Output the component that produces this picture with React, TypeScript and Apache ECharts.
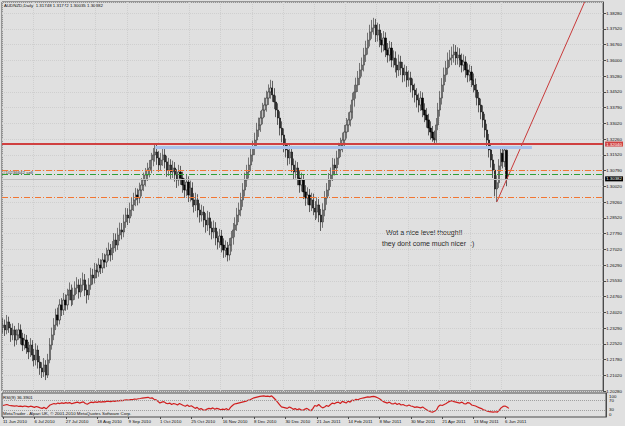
import React, { useEffect, useRef } from "react";
import * as echarts from "echarts";

const TITLE_TEXT = "AUDNZD,Daily  1.31748 1.31772 1.30035 1.30382";
const RSI_TITLE = "RSI(9) 36.3901";
const COPYRIGHT = "MetaTrader - Alpari UK, \u00a9 2001-2010 MetaQuotes Software Corp.";
const ORDER_LABEL = "#10236642 sell";
const NOTE_LINE_1 = "Wot a nice level though!!";
const NOTE_LINE_2 = "they dont come much nicer  :)";

const DATE_LABELS = [
  "11 Jun 2010", "6 Jul 2010", "27 Jul 2010", "18 Aug 2010", "9 Sep 2010", "1 Oct 2010",
  "25 Oct 2010", "16 Nov 2010", "8 Dec 2010", "30 Dec 2010", "21 Jan 2011", "14 Feb 2011",
  "8 Mar 2011", "30 Mar 2011", "21 Apr 2011", "13 May 2011", "6 Jun 2011",
];
const DATE_LABEL_EVERY = 16; // bars between date labels
const SLOT_COUNT = 308; // bar slots across the chart (incl. empty shift on the right)

const PRICE_TICKS = [
  "1.20280", "1.21020", "1.21780", "1.22520", "1.23290", "1.24020", "1.24760", "1.25530",
  "1.26290", "1.27020", "1.27790", "1.28520", "1.29260", "1.30020", "1.30790", "1.31520",
  "1.32260", "1.33020", "1.33790", "1.34520", "1.35280", "1.36000", "1.36760", "1.37520", "1.38280",
];
const PRICE_MIN = 1.2028;
const PRICE_MAX = 1.38804;
const PRICE_STEP = 0.0075;

// [open, close, low, high]
const BARS = [
  [1.2330, 1.2342, 1.2302, 1.2375], [1.2342, 1.2319, 1.2290, 1.2368], [1.2319, 1.2357, 1.2298, 1.2390], [1.2357, 1.2328, 1.2305, 1.2382],
  [1.2328, 1.2295, 1.2262, 1.2348], [1.2295, 1.2319, 1.2270, 1.2350], [1.2319, 1.2271, 1.2240, 1.2338], [1.2271, 1.2295, 1.2248, 1.2322],
  [1.2295, 1.2319, 1.2272, 1.2352], [1.2319, 1.2280, 1.2250, 1.2345], [1.2280, 1.2247, 1.2218, 1.2305], [1.2247, 1.2271, 1.2225, 1.2300],
  [1.2271, 1.2233, 1.2205, 1.2295], [1.2233, 1.2214, 1.2180, 1.2262], [1.2214, 1.2247, 1.2190, 1.2280], [1.2247, 1.2199, 1.2170, 1.2270],
  [1.2199, 1.2176, 1.2145, 1.2228], [1.2176, 1.2223, 1.2150, 1.2255], [1.2223, 1.2166, 1.2135, 1.2245], [1.2166, 1.2138, 1.2105, 1.2195],
  [1.2138, 1.2119, 1.2090, 1.2165], [1.2119, 1.2152, 1.2095, 1.2185], [1.2152, 1.2104, 1.2080, 1.2175], [1.2104, 1.2176, 1.2090, 1.2205],
  [1.2176, 1.2247, 1.2160, 1.2280], [1.2247, 1.2295, 1.2225, 1.2330], [1.2295, 1.2342, 1.2270, 1.2375], [1.2342, 1.2390, 1.2318, 1.2420],
  [1.2390, 1.2366, 1.2335, 1.2425], [1.2366, 1.2438, 1.2345, 1.2465], [1.2438, 1.2414, 1.2385, 1.2470], [1.2414, 1.2461, 1.2390, 1.2495],
  [1.2461, 1.2438, 1.2410, 1.2488], [1.2438, 1.2485, 1.2415, 1.2515], [1.2485, 1.2509, 1.2460, 1.2545], [1.2509, 1.2461, 1.2432, 1.2535],
  [1.2461, 1.2485, 1.2438, 1.2520], [1.2485, 1.2518, 1.2462, 1.2550], [1.2518, 1.2533, 1.2490, 1.2570], [1.2533, 1.2499, 1.2468, 1.2560],
  [1.2499, 1.2533, 1.2475, 1.2565], [1.2533, 1.2557, 1.2505, 1.2592], [1.2557, 1.2509, 1.2480, 1.2585], [1.2509, 1.2485, 1.2445, 1.2535],
  [1.2485, 1.2533, 1.2462, 1.2565], [1.2533, 1.2580, 1.2510, 1.2615], [1.2580, 1.2566, 1.2535, 1.2610], [1.2566, 1.2604, 1.2540, 1.2638],
  [1.2604, 1.2595, 1.2565, 1.2635], [1.2595, 1.2628, 1.2572, 1.2660], [1.2628, 1.2614, 1.2585, 1.2655], [1.2614, 1.2652, 1.2590, 1.2685],
  [1.2652, 1.2642, 1.2612, 1.2682], [1.2642, 1.2676, 1.2618, 1.2710], [1.2676, 1.2699, 1.2648, 1.2735], [1.2699, 1.2676, 1.2645, 1.2728],
  [1.2676, 1.2709, 1.2652, 1.2742], [1.2709, 1.2747, 1.2685, 1.2780], [1.2747, 1.2723, 1.2692, 1.2778], [1.2723, 1.2771, 1.2700, 1.2805],
  [1.2771, 1.2795, 1.2742, 1.2830], [1.2795, 1.2785, 1.2750, 1.2828], [1.2785, 1.2833, 1.2760, 1.2868], [1.2833, 1.2866, 1.2805, 1.2900],
  [1.2866, 1.2852, 1.2818, 1.2898], [1.2852, 1.2890, 1.2828, 1.2925], [1.2890, 1.2914, 1.2860, 1.2948], [1.2914, 1.2938, 1.2885, 1.2972],
  [1.2938, 1.2961, 1.2908, 1.2995], [1.2961, 1.2947, 1.2912, 1.2992], [1.2947, 1.2985, 1.2922, 1.3020], [1.2985, 1.3009, 1.2955, 1.3042],
  [1.3009, 1.3033, 1.2980, 1.3068], [1.3033, 1.3057, 1.3002, 1.3090], [1.3057, 1.3080, 1.3028, 1.3115], [1.3080, 1.3090, 1.3045, 1.3128],
  [1.3090, 1.3128, 1.3065, 1.3162], [1.3128, 1.3152, 1.3098, 1.3185], [1.3152, 1.3166, 1.3120, 1.3205], [1.3166, 1.3138, 1.3105, 1.3200],
  [1.3138, 1.3104, 1.3072, 1.3170], [1.3104, 1.3128, 1.3078, 1.3162], [1.3128, 1.3152, 1.3100, 1.3192], [1.3152, 1.3119, 1.3088, 1.3180],
  [1.3119, 1.3080, 1.3048, 1.3148], [1.3080, 1.3104, 1.3052, 1.3138], [1.3104, 1.3071, 1.3038, 1.3132], [1.3071, 1.3090, 1.3042, 1.3125],
  [1.3090, 1.3057, 1.3025, 1.3118], [1.3057, 1.3033, 1.2995, 1.3085], [1.3033, 1.3071, 1.3005, 1.3105], [1.3071, 1.3042, 1.3010, 1.3100],
  [1.3042, 1.3009, 1.2972, 1.3072], [1.3009, 1.2985, 1.2948, 1.3040], [1.2985, 1.3023, 1.2955, 1.3060], [1.3023, 1.2961, 1.2928, 1.3050],
  [1.2961, 1.2995, 1.2930, 1.3030], [1.2995, 1.2938, 1.2905, 1.3022], [1.2938, 1.2914, 1.2878, 1.2970], [1.2914, 1.2938, 1.2885, 1.2972],
  [1.2938, 1.2890, 1.2855, 1.2965], [1.2890, 1.2866, 1.2830, 1.2922], [1.2866, 1.2880, 1.2835, 1.2915], [1.2880, 1.2842, 1.2808, 1.2908],
  [1.2842, 1.2819, 1.2782, 1.2875], [1.2819, 1.2852, 1.2790, 1.2886], [1.2852, 1.2804, 1.2770, 1.2880], [1.2804, 1.2785, 1.2750, 1.2835],
  [1.2785, 1.2804, 1.2755, 1.2840], [1.2804, 1.2757, 1.2722, 1.2832], [1.2757, 1.2738, 1.2702, 1.2788], [1.2738, 1.2766, 1.2710, 1.2800],
  [1.2766, 1.2723, 1.2688, 1.2795], [1.2723, 1.2699, 1.2662, 1.2755], [1.2699, 1.2709, 1.2665, 1.2745], [1.2709, 1.2676, 1.2645, 1.2738],
  [1.2676, 1.2723, 1.2650, 1.2756], [1.2723, 1.2757, 1.2692, 1.2790], [1.2757, 1.2795, 1.2725, 1.2828], [1.2795, 1.2819, 1.2760, 1.2855],
  [1.2819, 1.2866, 1.2790, 1.2900], [1.2866, 1.2890, 1.2832, 1.2925], [1.2890, 1.2938, 1.2860, 1.2972], [1.2938, 1.2985, 1.2905, 1.3018],
  [1.2985, 1.3033, 1.2955, 1.3068], [1.3033, 1.3071, 1.3000, 1.3105], [1.3071, 1.3104, 1.3040, 1.3140], [1.3104, 1.3152, 1.3075, 1.3186],
  [1.3152, 1.3185, 1.3120, 1.3220], [1.3185, 1.3223, 1.3152, 1.3258], [1.3223, 1.3271, 1.3192, 1.3305], [1.3271, 1.3295, 1.3238, 1.3330],
  [1.3295, 1.3328, 1.3262, 1.3362], [1.3328, 1.3366, 1.3298, 1.3400], [1.3366, 1.3390, 1.3332, 1.3425], [1.3390, 1.3423, 1.3358, 1.3458],
  [1.3423, 1.3452, 1.3390, 1.3488], [1.3452, 1.3471, 1.3420, 1.3510], [1.3471, 1.3438, 1.3405, 1.3505], [1.3438, 1.3404, 1.3370, 1.3470],
  [1.3404, 1.3366, 1.3332, 1.3435], [1.3366, 1.3328, 1.3295, 1.3398], [1.3328, 1.3280, 1.3245, 1.3360], [1.3280, 1.3247, 1.3212, 1.3312],
  [1.3247, 1.3199, 1.3165, 1.3278], [1.3199, 1.3176, 1.3140, 1.3230], [1.3176, 1.3138, 1.3102, 1.3208], [1.3138, 1.3166, 1.3108, 1.3202],
  [1.3166, 1.3104, 1.3070, 1.3195], [1.3104, 1.3071, 1.3035, 1.3135], [1.3071, 1.3090, 1.3040, 1.3125], [1.3090, 1.3042, 1.3008, 1.3118],
  [1.3042, 1.3009, 1.2972, 1.3075], [1.3009, 1.3033, 1.2978, 1.3068], [1.3033, 1.2976, 1.2942, 1.3060], [1.2976, 1.2947, 1.2910, 1.3008],
  [1.2947, 1.2961, 1.2915, 1.2998], [1.2961, 1.2914, 1.2880, 1.2990], [1.2914, 1.2938, 1.2885, 1.2972], [1.2938, 1.2899, 1.2865, 1.2968],
  [1.2899, 1.2880, 1.2842, 1.2932], [1.2880, 1.2914, 1.2850, 1.2950], [1.2914, 1.2866, 1.2832, 1.2942], [1.2866, 1.2833, 1.2790, 1.2895],
  [1.2833, 1.2890, 1.2805, 1.2922], [1.2890, 1.2947, 1.2860, 1.2980], [1.2947, 1.2985, 1.2915, 1.3018], [1.2985, 1.3033, 1.2955, 1.3066],
  [1.3033, 1.3057, 1.3000, 1.3092], [1.3057, 1.3104, 1.3028, 1.3138], [1.3104, 1.3090, 1.3055, 1.3135], [1.3090, 1.3138, 1.3062, 1.3172],
  [1.3138, 1.3176, 1.3105, 1.3210], [1.3176, 1.3199, 1.3142, 1.3234], [1.3199, 1.3223, 1.3165, 1.3258], [1.3223, 1.3261, 1.3190, 1.3295],
  [1.3261, 1.3295, 1.3230, 1.3328], [1.3295, 1.3319, 1.3262, 1.3355], [1.3319, 1.3357, 1.3288, 1.3392], [1.3357, 1.3414, 1.3325, 1.3448],
  [1.3414, 1.3452, 1.3382, 1.3486], [1.3452, 1.3485, 1.3420, 1.3520], [1.3485, 1.3518, 1.3452, 1.3552], [1.3518, 1.3557, 1.3485, 1.3590],
  [1.3557, 1.3580, 1.3525, 1.3616], [1.3580, 1.3628, 1.3550, 1.3662], [1.3628, 1.3661, 1.3595, 1.3696], [1.3661, 1.3699, 1.3630, 1.3734],
  [1.3699, 1.3738, 1.3668, 1.3772], [1.3738, 1.3757, 1.3705, 1.3795], [1.3757, 1.3771, 1.3725, 1.3805], [1.3771, 1.3723, 1.3690, 1.3800],
  [1.3723, 1.3747, 1.3692, 1.3782], [1.3747, 1.3699, 1.3665, 1.3775], [1.3699, 1.3676, 1.3640, 1.3732], [1.3676, 1.3709, 1.3645, 1.3742],
  [1.3709, 1.3652, 1.3618, 1.3736], [1.3652, 1.3628, 1.3592, 1.3685], [1.3628, 1.3661, 1.3598, 1.3695], [1.3661, 1.3604, 1.3570, 1.3690],
  [1.3604, 1.3614, 1.3568, 1.3650], [1.3614, 1.3580, 1.3545, 1.3645], [1.3580, 1.3557, 1.3520, 1.3612], [1.3557, 1.3595, 1.3528, 1.3630],
  [1.3595, 1.3566, 1.3532, 1.3624], [1.3566, 1.3533, 1.3498, 1.3595], [1.3533, 1.3547, 1.3502, 1.3582], [1.3547, 1.3509, 1.3475, 1.3575],
  [1.3509, 1.3519, 1.3478, 1.3554], [1.3519, 1.3485, 1.3450, 1.3548], [1.3485, 1.3461, 1.3425, 1.3516], [1.3461, 1.3438, 1.3402, 1.3492],
  [1.3438, 1.3414, 1.3378, 1.3470], [1.3414, 1.3390, 1.3355, 1.3445], [1.3390, 1.3423, 1.3362, 1.3456], [1.3423, 1.3366, 1.3332, 1.3450],
  [1.3366, 1.3342, 1.3308, 1.3398], [1.3342, 1.3319, 1.3282, 1.3375], [1.3319, 1.3280, 1.3245, 1.3348], [1.3280, 1.3261, 1.3225, 1.3312],
  [1.3261, 1.3233, 1.3215, 1.3290], [1.3233, 1.3223, 1.3205, 1.3268], [1.3223, 1.3295, 1.3210, 1.3328], [1.3295, 1.3366, 1.3270, 1.3400],
  [1.3366, 1.3423, 1.3335, 1.3456], [1.3423, 1.3485, 1.3392, 1.3518], [1.3485, 1.3533, 1.3452, 1.3568], [1.3533, 1.3566, 1.3500, 1.3600],
  [1.3566, 1.3604, 1.3535, 1.3640], [1.3604, 1.3614, 1.3570, 1.3652], [1.3614, 1.3628, 1.3580, 1.3668], [1.3628, 1.3642, 1.3592, 1.3680],
  [1.3642, 1.3614, 1.3580, 1.3675], [1.3614, 1.3628, 1.3582, 1.3665], [1.3628, 1.3604, 1.3570, 1.3660], [1.3604, 1.3580, 1.3545, 1.3635],
  [1.3580, 1.3595, 1.3550, 1.3630], [1.3595, 1.3557, 1.3520, 1.3622], [1.3557, 1.3533, 1.3498, 1.3588], [1.3533, 1.3547, 1.3502, 1.3582],
  [1.3547, 1.3509, 1.3475, 1.3576], [1.3509, 1.3485, 1.3450, 1.3540], [1.3485, 1.3461, 1.3425, 1.3516], [1.3461, 1.3423, 1.3388, 1.3490],
  [1.3423, 1.3390, 1.3355, 1.3452], [1.3390, 1.3357, 1.3322, 1.3420], [1.3357, 1.3319, 1.3282, 1.3388], [1.3319, 1.3271, 1.3235, 1.3348],
  [1.3271, 1.3223, 1.3188, 1.3300], [1.3223, 1.3176, 1.3140, 1.3252], [1.3176, 1.3128, 1.3092, 1.3205], [1.3128, 1.3080, 1.3042, 1.3156],
  [1.3080, 1.2990, 1.2955, 1.3110], [1.2990, 1.3020, 1.2928, 1.3055], [1.3020, 1.3100, 1.2995, 1.3132], [1.3100, 1.3160, 1.3072, 1.3185],
  [1.3160, 1.3120, 1.3088, 1.3182], [1.3120, 1.3175, 1.3095, 1.3184], [1.31748, 1.30382, 1.30035, 1.31772],
];

const RSI = [
  48, 50, 52, 49, 47, 46, 45, 47, 44, 45, 43, 46, 44, 42, 45, 43,
  40, 44, 41, 38, 36, 40, 34, 42, 50, 53, 56, 54, 58, 56, 59, 57, 60, 58,
  60, 55, 58, 60, 62, 58, 61, 63, 56, 53, 58, 62, 60, 63, 61, 64,
  62, 64, 63, 66, 65, 64, 67, 65, 68, 67, 69, 68, 70, 72, 70, 73, 72, 75, 74, 76, 77, 79, 80, 81,
  82, 78, 80, 74, 72, 65, 58,
  62, 64, 58, 55, 58, 52, 56, 54, 50, 56, 52, 48, 45, 50, 44, 47, 42,
  36, 40, 32, 35, 30, 28, 33,
  36, 34, 38, 32, 36, 34, 30, 33, 31, 35, 28, 40,
  48, 54, 56, 58, 60, 62, 64, 66, 70, 72, 76, 80, 82,
  84, 86, 87, 88, 86, 87, 85, 88, 80, 72,
  62, 52, 42, 40, 38, 36, 42,
  38, 32, 35, 30, 34, 30, 28, 33, 36, 30, 26, 35,
  48, 45, 52, 44, 38, 42, 48, 44, 52,
  58, 55, 60, 62, 56, 65, 62, 58, 66, 62, 70, 68, 74, 72, 76, 78, 80, 82, 84, 83, 85, 86, 84,
  80, 76, 70, 64, 61, 58, 62, 56, 54, 58, 52, 56, 50, 52, 48, 46, 50, 46, 44, 40,
  42, 40, 38, 42, 36, 30, 26, 22, 20, 24,
  28, 44, 50, 48, 52, 56, 62, 66, 68, 64, 62, 60, 58, 62, 56, 54, 60, 58, 50, 48, 46,
  42, 38, 35, 30, 28, 24, 22, 21, 20, 22, 20, 28, 38, 44, 46, 42, 36,
];
const RSI_LEVELS = [30, 70];

const RESISTANCE_LEVEL = 1.3204;
const ZONE_LEVEL = 1.319;
const ZONE_FROM_BAR = 78;
const ZONE_TO_BAR = 271;
const ORDER_LEVELS_ORANGE = [1.3078, 1.2949];
const ORDER_LEVEL_GREEN = 1.3061;
const BID_PRICE = 1.30382;
const TREND_START = { bar: 253, price: 1.2928 };
const TREND_END = { bar: 298, price: 1.388 };

const BG = "#e0e0e0";
const FONT = "'Liberation Sans', Arial, sans-serif";
const SMALL = 4.4;

export default function App() {
  const ref = useRef<HTMLDivElement>(null);

  useEffect(() => {
    document.body.style.margin = "0";
    const chart = echarts.init(ref.current!, null, { renderer: "svg" });
    const categories = Array.from({ length: SLOT_COUNT }, (_, i) => String(i));
    const isDateSlot = (i: number) =>
      i % DATE_LABEL_EVERY === 0 && i / DATE_LABEL_EVERY < DATE_LABELS.length;

    const option: any = {
      animation: false,
      backgroundColor: BG,
      textStyle: { fontFamily: FONT },
      grid: [
        { left: 2, top: 2, width: 604, height: 389, show: true, borderColor: "#4a4a4a", borderWidth: 1 },
        { left: 2, top: 393, width: 604, height: 24, show: true, borderColor: "#4a4a4a", borderWidth: 1 },
      ],
      xAxis: [
        {
          type: "category", gridIndex: 0, data: categories, boundaryGap: true,
          axisLine: { show: false }, axisTick: { show: false }, axisLabel: { show: false },
          splitLine: { show: true, interval: (i: number) => isDateSlot(i), lineStyle: { color: "#cfcfcf", type: "dotted", width: 1 } },
        },
        {
          type: "category", gridIndex: 1, data: categories, boundaryGap: true,
          axisLine: { show: false },
          axisTick: { show: true, alignWithLabel: true, length: 2, interval: (i: number) => isDateSlot(i), lineStyle: { color: "#4a4a4a" } },
          axisLabel: {
            show: true, interval: (i: number) => isDateSlot(i), align: "left", margin: 2,
            fontSize: SMALL, color: "#111", fontFamily: FONT,
            formatter: (v: string) => DATE_LABELS[Number(v) / DATE_LABEL_EVERY] ?? "",
          },
          splitLine: { show: false },
        },
      ],
      yAxis: [
        {
          type: "value", gridIndex: 0, position: "right", min: PRICE_MIN, max: PRICE_MAX, interval: PRICE_STEP,
          axisLine: { show: true, lineStyle: { color: "#4a4a4a" } },
          axisTick: { show: true, length: 3, lineStyle: { color: "#4a4a4a" } },
          axisLabel: {
            show: true, margin: 3, fontSize: SMALL, color: "#111", fontFamily: FONT, showMaxLabel: false,
            formatter: (v: number) => {
              const k = Math.round((v - PRICE_MIN) / PRICE_STEP);
              return Math.abs(v - (PRICE_MIN + k * PRICE_STEP)) < 1e-5 ? PRICE_TICKS[k] ?? "" : "";
            },
          },
          splitLine: { show: true, lineStyle: { color: "#cfcfcf", type: "dotted", width: 1 } },
        },
        {
          type: "value", gridIndex: 1, position: "right", min: 0, max: 100, interval: 10,
          axisLine: { show: true, lineStyle: { color: "#4a4a4a" } },
          axisTick: { show: false },
          axisLabel: {
            show: true, margin: 3, fontSize: SMALL, color: "#111", fontFamily: FONT,
            formatter: (v: number) =>
              v === 100 ? "{t|100}" : v === 0 ? "{b|0}" : RSI_LEVELS.includes(v) ? String(v) : "",
            rich: {
              t: { fontSize: SMALL, fontFamily: FONT, color: "#111", padding: [6, 0, 0, 0] },
              b: { fontSize: SMALL, fontFamily: FONT, color: "#111", padding: [0, 0, 6, 0] },
            },
          },
          splitLine: { show: false },
        },
      ],
      series: [
        {
          type: "candlestick", xAxisIndex: 0, yAxisIndex: 0, data: BARS, barWidth: 1.8, clip: true,
          itemStyle: { color: "#c4c4c4", color0: "#050505", borderColor: "#2a2a2a", borderColor0: "#050505", borderWidth: 0.6 },
          emphasis: { disabled: true },
          markLine: {
            silent: true, symbol: ["none", "none"], animation: false, precision: 5,
            label: { show: false },
            data: [
              [
                { coord: [TREND_START.bar, TREND_START.price], lineStyle: { color: "#c83a3a", width: 1, type: "solid" } },
                { coord: [TREND_END.bar, TREND_END.price] },
              ],
              [
                { coord: [ZONE_FROM_BAR, ZONE_LEVEL], lineStyle: { color: "#a9c2ea", width: 3, type: "solid" } },
                { coord: [ZONE_TO_BAR, ZONE_LEVEL] },
              ],
              ...ORDER_LEVELS_ORANGE.map((v) => ({
                yAxis: v, lineStyle: { color: "#f27632", width: 1.2, type: [6, 2, 1, 2] },
              })),
              { yAxis: ORDER_LEVEL_GREEN, lineStyle: { color: "#2f9e36", width: 1.2, type: [6, 2, 1, 2] } },
              {
                yAxis: BID_PRICE, lineStyle: { color: "#bdbdbd", width: 1, type: "solid" },
                label: {
                  show: true, position: "end", distance: 2, formatter: BID_PRICE.toFixed(5),
                  backgroundColor: "#000", color: "#fff", fontSize: SMALL, fontFamily: FONT, padding: [1, 1, 0, 1],
                },
              },
              {
                yAxis: RESISTANCE_LEVEL, lineStyle: { color: "#d04040", width: 2, type: "solid" },
                label: {
                  show: true, position: "end", distance: 2, formatter: RESISTANCE_LEVEL.toFixed(5),
                  backgroundColor: "#d04040", color: "#fff", fontSize: SMALL, fontFamily: FONT, padding: [1, 1, 0, 1],
                },
              },
            ],
          },
        },
        {
          type: "line", xAxisIndex: 1, yAxisIndex: 1, data: RSI, symbol: "none", clip: true,
          lineStyle: { color: "#d01e1e", width: 1.2 },
          emphasis: { disabled: true },
          markLine: {
            silent: true, symbol: ["none", "none"], label: { show: false },
            lineStyle: { color: "#a0a0a0", width: 1, type: "dotted" },
            data: RSI_LEVELS.map((v) => ({ yAxis: v })),
          },
        },
      ],
      graphic: [
        { type: "text", x: 4, y: 5, style: { text: TITLE_TEXT, fill: "#111", font: `${SMALL}px ${FONT}`, verticalAlign: "middle" } },
        { type: "text", x: 3, y: 172, style: { text: ORDER_LABEL, fill: "#333", font: `${SMALL}px ${FONT}`, verticalAlign: "middle" } },
        { type: "text", x: 386, y: 232, style: { text: NOTE_LINE_1, fill: "#2a2a2a", font: `7px ${FONT}`, verticalAlign: "middle" } },
        { type: "text", x: 382, y: 243, style: { text: NOTE_LINE_2, fill: "#2a2a2a", font: `7px ${FONT}`, verticalAlign: "middle" } },
        { type: "text", x: 3, y: 397, style: { text: RSI_TITLE, fill: "#111", font: `${SMALL}px ${FONT}`, verticalAlign: "middle" } },
        { type: "text", x: 3, y: 413, style: { text: COPYRIGHT, fill: "#111", font: `${SMALL}px ${FONT}`, verticalAlign: "middle" } },
      ],
    };

    chart.setOption(option);
    return () => chart.dispose();
  }, []);

  return <div ref={ref} style={{ width: 625, height: 426 }} />;
}
